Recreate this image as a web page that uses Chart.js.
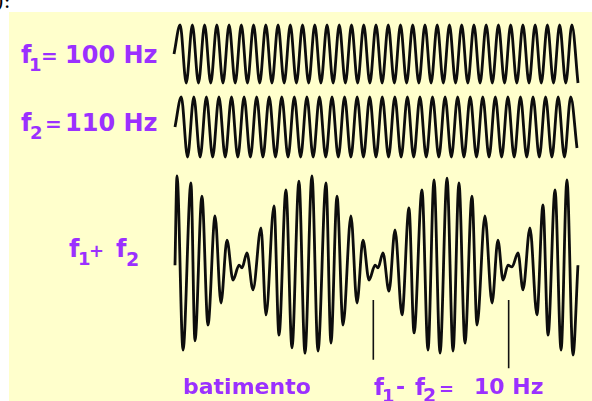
<!DOCTYPE html>
<html>
<head>
<meta charset="utf-8">
<script src="https://cdn.jsdelivr.net/npm/chart.js@4/dist/chart.umd.min.js"></script>
<style>
  html, body { margin:0; padding:0; }
  body { width:592px; height:401px; position:relative; overflow:hidden; background:#ffffff; }
  #bg { position:absolute; left:9px; top:12px; right:0; bottom:0; background:#ffffcc; }
  canvas { position:absolute; }
  .t { position:absolute; font-family:"DejaVu Sans", Verdana, sans-serif; font-weight:bold; color:#9b30ff; white-space:nowrap; }
  #frag { position:absolute; left:-4px; top:-11px; font:20px "DejaVu Serif", "Liberation Serif", serif; color:#000; }
</style>
</head>
<body>
<div id="bg"></div>
<div id="frag">):</div>
<canvas id="c1" width="425" height="72" style="left:165px;top:18px"></canvas>
<canvas id="c2" width="425" height="72" style="left:165px;top:90px"></canvas>
<canvas id="c3" width="425" height="210" style="left:165px;top:165px"></canvas>
<script>
// ---- data ----
// f1 = 100 Hz : successive extremes (half-cycles), amplitude units
const f1Values = [0,
  1,-1, 1,-1, 1,-1, 1,-1, 1,-1, 1,-1, 1,-1, 1,-1, 1,-1, 1,-1,
  1,-1, 1,-1, 1,-1, 1,-1, 1,-1, 1,-1, 1,-1, 1,-1, 1,-1, 1,-1,
  1,-1, 1,-1, 1,-1, 1,-1, 1,-1, 1,-1, 1,-1, 1,-1, 1,-1, 1,-1,
  1,-1, 1,-1, 1,-1];
// f2 = 110 Hz : successive extremes
const f2Values = [0,
  1,-1, 1,-1, 1,-1, 1,-1, 1,-1, 1,-1, 1,-1, 1,-1, 1,-1, 1,-1,
  1,-1, 1,-1, 1,-1, 1,-1, 1,-1, 1,-1, 1,-1, 1,-1, 1,-1, 1,-1,
  1,-1, 1,-1, 1,-1, 1,-1, 1,-1, 1,-1, 1,-1, 1,-1, 1,-1, 1,-1,
  1,-1, 1,-0.7];
// f1 + f2 : time of each extreme (ms) and its value
const sumTimes = [0, 1.5, 6.0, 11.9, 14.9, 20.1, 24.6, 29.9, 34.3, 38.8, 43.3, 47.8, 50.0, 53.7, 58.2,
  64.2, 67.9, 73.9, 77.6, 82.8, 87.3, 92.5, 97.0,
  102.2, 106.7, 112.7, 116.4, 120.9, 125.4, 131.3, 135.8, 140.3, 144.8, 149.3, 151.5, 155.2, 159.7,
  164.2, 169.4, 174.6, 178.4, 184.3, 188.8, 193.3, 197.8,
  203.0, 207.5, 211.9, 216.4, 221.6, 225.4, 231.3, 236.6, 241.0, 244.8, 248.5, 251.5, 256.0, 259.7,
  264.9, 270.1, 274.6, 278.4, 283.6, 288.1, 292.5, 297.0, 300.7];
const sumValues = [-0.05, 1.98, -1.98, 1.82, -1.77, 1.52, -1.41, 1.07, -0.91, 0.52, -0.39, -0.05, -0.11, 0.23, -0.61,
  0.80, -1.18, 1.30, -1.64, 1.66, -1.93, 1.86, -2.05,
  1.98, -2.00, 1.82, -1.82, 1.52, -1.41, 1.07, -0.91, 0.52, -0.39, -0.05, -0.11, 0.23, -0.64,
  0.75, -1.18, 1.25, -1.59, 1.66, -1.98, 1.89, -2.05,
  1.93, -2.00, 1.82, -1.82, 1.52, -1.41, 1.07, -0.91, 0.52, -0.39, -0.05, -0.09, 0.23, -0.61,
  0.80, -1.18, 1.32, -1.64, 1.66, -1.98, 1.89, -2.09, -0.05];
// beat markers (ms) and their vertical extent (amplitude units)
const markerTimes = [148, 249];
const markerTop = [-0.84, -0.84];
const markerBottom = [-2.2, -2.39];

// labels
const rowLabels = ["f", "1", "=", "100 Hz", "f", "2", "=", "110 Hz"];
const sumLabel = ["f", "1", "+", "f", "2"];
const bottomLabel = ["batimento", "f", "1", "-", "f", "2", "=", "10 Hz"];

// ---- drawing ----
function waveSets(points) {
  return [
    { data: points, borderColor: '#0d0d0d', borderWidth: 2.8, cubicInterpolationMode: 'monotone', pointRadius: 0, fill: false },
    { data: points, borderColor: 'rgba(168,210,110,0.95)', borderWidth: 1.1, borderDash: [3, 3], cubicInterpolationMode: 'monotone', pointRadius: 0, fill: false }
  ];
}
function makeChart(id, datasets, xmin, xmax, ymin, ymax) {
  return new Chart(document.getElementById(id), {
    type: 'line',
    data: { datasets: datasets },
    options: {
      responsive: false, animation: false, events: [],
      layout: { padding: 0 },
      plugins: { legend: { display: false }, tooltip: { enabled: false }, title: { display: false } },
      scales: {
        x: { type: 'linear', display: false, min: xmin, max: xmax },
        y: { type: 'linear', display: false, min: ymin, max: ymax }
      }
    }
  });
}
const p1 = f1Values.map((v, i) => ({ x: i, y: v }));
const p2 = f2Values.map((v, i) => ({ x: i, y: v }));
const p3 = sumTimes.map((t, i) => ({ x: t, y: sumValues[i] }));

makeChart('c1', waveSets(p1), -1.47, 67.96, -1.241, 1.241);
makeChart('c2', waveSets(p2), -1.59, 66.07, -1.167, 1.233);
const markers = markerTimes.map((t, i) => ({
  data: [{ x: t, y: markerTop[i] }, { x: t, y: markerBottom[i] }],
  borderColor: '#111111', borderWidth: 1.6, pointRadius: 0, fill: false, tension: 0
}));
makeChart('c3', waveSets(p3).concat(markers), -7.46, 309.70, -2.545, 2.227);

// text pieces: text, left, baseline, size
function put(text, left, baseline, size) {
  const d = document.createElement('div');
  d.className = 't';
  d.textContent = text;
  d.style.fontSize = size + 'px';
  d.style.lineHeight = size + 'px';
  d.style.left = left + 'px';
  d.style.top = (baseline - size * 0.846) + 'px';
  document.body.appendChild(d);
}
put(rowLabels[0], 21, 63, 24);
put(rowLabels[1], 29, 71, 18);
put(rowLabels[2], 41, 63, 20);
put(rowLabels[3], 65, 63, 24);
put(rowLabels[4], 21, 131, 24);
put(rowLabels[5], 30, 139, 18);
put(rowLabels[6], 45, 131, 20);
put(rowLabels[7], 65, 131, 24);

put(sumLabel[0], 69, 257, 24);
put(sumLabel[1], 78, 265, 18);
put(sumLabel[2], 89, 257, 18);
put(sumLabel[3], 116, 257, 24);
put(sumLabel[4], 126, 266, 19);

put(bottomLabel[0], 183, 395, 22);
put(bottomLabel[1], 374, 395, 23);
put(bottomLabel[2], 382, 402, 18);
put(bottomLabel[3], 396, 395, 22);
put(bottomLabel[4], 415, 395, 23);
put(bottomLabel[5], 423, 402, 19);
put(bottomLabel[6], 439, 395, 18);
put(bottomLabel[7], 474, 395, 22);
</script>
</body>
</html>
